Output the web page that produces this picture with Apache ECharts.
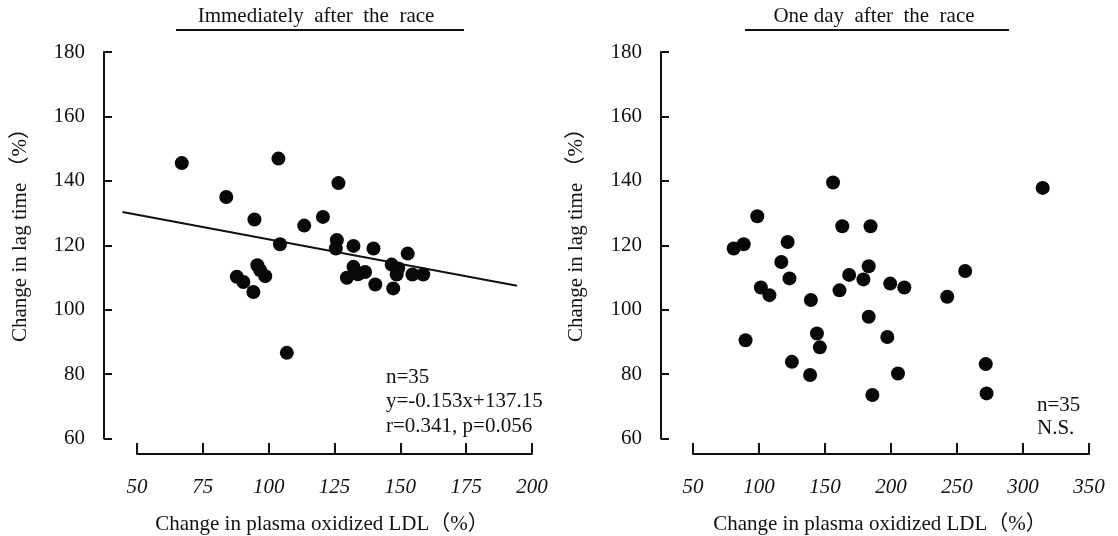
<!DOCTYPE html>
<html>
<head>
<meta charset="utf-8">
<script src="https://cdn.jsdelivr.net/npm/echarts@6/dist/echarts.min.js"></script>
<style>
  html, body { margin: 0; padding: 0; background: #fff; }
  #chart { width: 1118px; height: 536px; }
</style>
</head>
<body>
<div id="chart"></div>
<script>
// Panel A: immediately after the race (oxidized LDL change %, lag time change %)
const postRaceX = [67.0, 83.9, 94.6, 103.7, 104.3, 106.9, 95.7, 98.7, 96.8, 87.9, 90.4, 94.2,
  120.6, 113.5, 126.5, 125.9, 125.5, 132.2, 139.8, 152.8, 132.2, 136.6, 129.7, 133.9,
  140.5, 146.7, 149.2, 148.6, 154.6, 158.7, 147.3];
const postRaceY = [145.5, 135.0, 128.0, 146.9, 120.3, 86.6, 113.8, 110.4, 112.2, 110.2, 108.6, 105.5,
  128.8, 126.1, 139.3, 121.6, 119.0, 119.8, 119.0, 117.4, 113.3, 111.7, 109.9, 111.0,
  107.8, 114.0, 112.8, 110.9, 110.9, 110.9, 106.6];

// Regression line y = -0.153x + 137.15, end points
const fitX = [44.5, 194.3];
const fitY = [130.34, 107.42];

// Panel B: one day after the race
const nextDayX = [156.1, 314.9, 98.7, 163.1, 184.5, 80.8, 88.4, 121.7, 116.9, 183.1, 256.2,
  101.4, 107.9, 123.1, 89.8, 139.3, 143.9, 146.1, 124.9, 138.7, 161.0, 168.3, 179.1,
  183.1, 185.9, 199.4, 210.1, 197.2, 205.3, 242.6, 271.8, 272.4];
const nextDayY = [139.5, 137.8, 129.0, 125.9, 125.9, 119.0, 120.3, 121.0, 114.8, 113.5, 112.0,
  106.9, 104.5, 109.7, 90.5, 103.0, 92.6, 88.3, 83.8, 79.7, 106.0, 110.8, 109.4,
  97.8, 73.5, 108.1, 106.9, 91.5, 80.2, 104.0, 83.1, 74.0];

// Axis ranges and ticks
const yTicks = [60, 80, 100, 120, 140, 160, 180];
const xTicksA = [50, 75, 100, 125, 150, 175, 200];
const xTicksB = [50, 100, 150, 200, 250, 300, 350];

const panelTitles = ['Immediately  after  the  race', 'One day  after  the  race'];
const xName = 'Change in plasma oxidized LDL（%）';
const yName = 'Change in lag time （%）';
const notesA = ['n=35', 'y=-0.153x+137.15', 'r=0.341, p=0.056'];
const notesB = ['n=35', 'N.S.'];

const FONT = "'Liberation Serif', 'DejaVu Serif', 'Noto Sans CJK SC', serif";
const INK = '#111';
const DOT = '#080808';

function zip(xs, ys) { return xs.map((x, i) => [x, ys[i]]); }

function xAxisFor(gridIndex, ticks) {
  return {
    gridIndex, type: 'value',
    min: ticks[0], max: ticks[ticks.length - 1], interval: ticks[1] - ticks[0],
    offset: 15.5,
    axisLine: { show: true, onZero: false, lineStyle: { color: INK, width: 2 } },
    axisTick: { show: true, inside: true, length: 11, lineStyle: { color: INK, width: 2 } },
    axisLabel: { color: INK, fontFamily: FONT, fontSize: 21, fontStyle: 'italic', margin: 23 },
    splitLine: { show: false }
  };
}
function yAxisFor(gridIndex, offset) {
  return {
    gridIndex, type: 'value',
    min: yTicks[0], max: yTicks[yTicks.length - 1], interval: yTicks[1] - yTicks[0],
    offset,
    axisLine: { show: true, onZero: false, lineStyle: { color: INK, width: 2 } },
    axisTick: { show: true, inside: true, length: 8, lineStyle: { color: INK, width: 2 } },
    axisLabel: { color: INK, fontFamily: FONT, fontSize: 21, margin: 19 },
    splitLine: { show: false }
  };
}

function text(x, y, str, align, extra) {
  return Object.assign({
    type: 'text', x, y,
    style: { text: str, fill: INK, font: '21px ' + FONT, align: align || 'left', verticalAlign: 'middle' }
  }, extra || {});
}
function rule(x1, x2, y) {
  return { type: 'line', shape: { x1, y1: y, x2, y2: y }, style: { stroke: INK, lineWidth: 2 } };
}

const chart = echarts.init(document.getElementById('chart'), null, { renderer: 'canvas' });

const graphics = [
  text(316, 16, panelTitles[0], 'center'),
  rule(176, 464, 30),
  text(874, 16, panelTitles[1], 'center'),
  rule(745, 1009, 30),
  text(322, 524, xName, 'center'),
  text(880, 524, xName, 'center'),
  text(20, 230, yName, 'center', { rotation: Math.PI / 2 }),
  text(576, 230, yName, 'center', { rotation: Math.PI / 2 })
];
notesA.forEach((s, i) => graphics.push(text(386, 377 + i * 24.5, s, 'left')));
notesB.forEach((s, i) => graphics.push(text(1037, 405 + i * 23.5, s, 'left')));

chart.setOption({
  animation: false,
  backgroundColor: '#fff',
  grid: [
    { left: 137, top: 52, width: 395, height: 386.5 },
    { left: 693, top: 52, width: 396, height: 386.5 }
  ],
  xAxis: [xAxisFor(0, xTicksA), xAxisFor(1, xTicksB)],
  yAxis: [yAxisFor(0, 33), yAxisFor(1, 32)],
  series: [
    {
      type: 'scatter', xAxisIndex: 0, yAxisIndex: 0,
      data: zip(postRaceX, postRaceY),
      symbol: 'circle', symbolSize: 14,
      itemStyle: { color: DOT, opacity: 1 }
    },
    {
      // fitted line, allowed to run slightly past the first x tick
      type: 'custom', xAxisIndex: 0, yAxisIndex: 0,
      clip: false, silent: true,
      data: [[fitX[0], fitY[0], fitX[1], fitY[1]]],
      encode: { x: [0, 2], y: [1, 3] },
      renderItem: function (params, api) {
        const p1 = api.coord([api.value(0), api.value(1)]);
        const p2 = api.coord([api.value(2), api.value(3)]);
        return {
          type: 'line',
          shape: { x1: p1[0], y1: p1[1], x2: p2[0], y2: p2[1] },
          style: { stroke: INK, lineWidth: 2 }
        };
      }
    },
    {
      type: 'scatter', xAxisIndex: 1, yAxisIndex: 1,
      data: zip(nextDayX, nextDayY),
      symbol: 'circle', symbolSize: 14,
      itemStyle: { color: DOT, opacity: 1 }
    }
  ],
  graphic: graphics
});
</script>
</body>
</html>
